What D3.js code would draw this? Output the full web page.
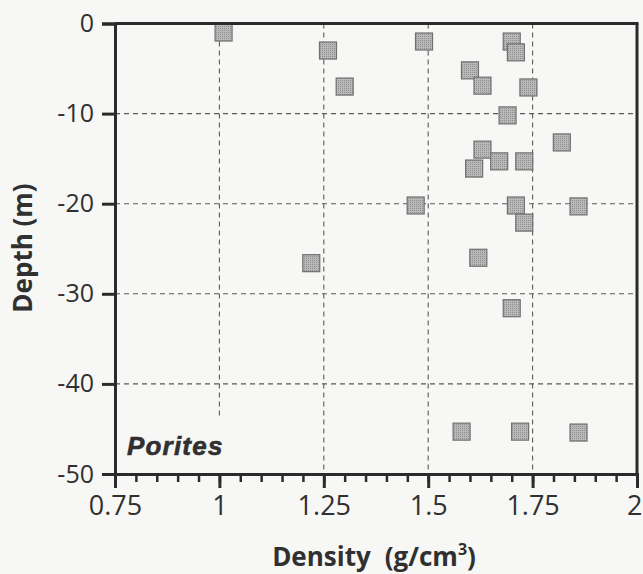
<!DOCTYPE html>
<html>
<head>
<meta charset="utf-8">
<script src="https://cdn.jsdelivr.net/npm/d3@7"></script>
<style>
  html, body { margin: 0; padding: 0; background: #f7f7f5; }
  svg { display: block; }
</style>
</head>
<body>
<svg id="chart" width="643" height="574"></svg>
<script>
// Porites skeletal density against collection depth
const density = [1.01, 1.22, 1.26, 1.49, 1.30, 1.70, 1.71, 1.60, 1.63, 1.74,
                 1.69, 1.82, 1.63, 1.67, 1.73, 1.61, 1.47, 1.71, 1.86, 1.73,
                 1.62, 1.70, 1.58, 1.72, 1.86];
const depth   = [-1, -26.6, -3, -2, -7, -2, -3.2, -5.2, -6.9, -7.1,
                 -10.2, -13.2, -14, -15.3, -15.3, -16.1, -20.2, -20.2, -20.3, -22.1,
                 -26, -31.6, -45.3, -45.3, -45.4];
const xTicks = [0.75, 1, 1.25, 1.5, 1.75, 2];
const xTickLabels = ["0.75", "1", "1.25", "1.5", "1.75", "2"];
const yTicks = [0, -10, -20, -30, -40, -50];
const yTickLabels = ["0", "-10", "-20", "-30", "-40", "-50"];
const xMinor = d3.range(0.75, 2.0001, 0.05);
const speciesLabel = "Porites";

const svg = d3.select("#chart");
const plotLeft = 115, plotRight = 637, plotTop = 23.5, plotBottom = 474;

const x = d3.scaleLinear().domain([0.75, 2]).range([plotLeft, plotRight]);
const y = d3.scaleLinear().domain([-50, 0]).range([plotBottom, plotTop]);

const axisColor = "#2b2b2b";
const textColor = "#303030";
const tickFont = "'Open Sans', 'Lato', sans-serif";

// dashed grid
const grid = svg.append("g").attr("stroke", "#5a5a5a").attr("stroke-width", 1.1)
  .attr("stroke-dasharray", "5,4").attr("fill", "none");
grid.selectAll("line.v").data(xTicks.slice(1, -1)).join("line")
  .attr("x1", d => x(d)).attr("x2", d => x(d))
  .attr("y1", plotTop).attr("y2", plotBottom);
grid.selectAll("line.h").data(yTicks.slice(1, -1)).join("line")
  .attr("x1", plotLeft).attr("x2", plotRight)
  .attr("y1", d => y(d)).attr("y2", d => y(d));

// label panel hides the grid behind the species name
svg.append("rect").attr("x", 121).attr("y", 419).attr("width", 118).attr("height", 53)
  .attr("fill", "#f7f7f5");
svg.append("text").attr("x", 127).attr("y", 455)
  .attr("font-family", "'Liberation Sans', Arial, sans-serif")
  .attr("font-weight", 700).attr("font-style", "italic")
  .attr("font-size", 26).attr("letter-spacing", 1.2)
  .attr("fill", textColor).attr("stroke", textColor).attr("stroke-width", 0.6)
  .text(speciesLabel);

// markers
const pat = svg.append("defs").append("pattern").attr("id", "stipple")
  .attr("width", 2).attr("height", 2).attr("patternUnits", "userSpaceOnUse");
pat.append("rect").attr("width", 2).attr("height", 2).attr("fill", "#b9b9b9");
pat.append("rect").attr("width", 1).attr("height", 1).attr("fill", "#8f8f8f");

const size = 17;
svg.append("g").selectAll("rect").data(density.map((d, i) => [d, depth[i]])).join("rect")
  .attr("x", d => x(d[0]) - size / 2).attr("y", d => y(d[1]) - size / 2)
  .attr("width", size).attr("height", size)
  .attr("fill", "url(#stipple)").attr("stroke", "#707070").attr("stroke-width", 1.2);

// frame
const frame = svg.append("g").attr("stroke", axisColor).attr("stroke-width", 3).attr("fill", "none");
frame.append("line").attr("x1", plotLeft).attr("x2", plotRight + 1.5).attr("y1", plotTop).attr("y2", plotTop);
frame.append("line").attr("x1", plotRight).attr("x2", plotRight).attr("y1", plotTop).attr("y2", plotBottom);

// y axis
const yAxis = svg.append("g").attr("transform", `translate(${plotLeft},0)`)
  .call(d3.axisLeft(y).tickValues(yTicks).tickSize(13).tickPadding(8)
    .tickFormat((d, i) => yTickLabels[i]));
yAxis.select(".domain").attr("stroke", axisColor).attr("stroke-width", 3);
yAxis.selectAll(".tick line").attr("stroke", axisColor).attr("stroke-width", 3);
yAxis.selectAll(".tick text").attr("font-family", tickFont).attr("font-size", 25)
  .attr("fill", textColor);

// x axis minor ticks
const xMinorAxis = svg.append("g").attr("transform", `translate(0,${plotBottom})`)
  .call(d3.axisBottom(x).tickValues(xMinor).tickSize(8).tickFormat(""));
xMinorAxis.select(".domain").remove();
xMinorAxis.selectAll(".tick line").attr("stroke", axisColor).attr("stroke-width", 2.5);

// x axis
const xAxis = svg.append("g").attr("transform", `translate(0,${plotBottom})`)
  .call(d3.axisBottom(x).tickValues(xTicks).tickSize(14).tickPadding(8)
    .tickFormat((d, i) => xTickLabels[i]));
xAxis.select(".domain").attr("stroke", axisColor).attr("stroke-width", 3);
xAxis.selectAll(".tick line").attr("stroke", axisColor).attr("stroke-width", 3);
xAxis.selectAll(".tick text").attr("font-family", tickFont).attr("font-size", 27)
  .attr("fill", textColor);
// keep the last label inside the page edge
xAxis.selectAll(".tick text").filter((d, i, n) => i === n.length - 1)
  .attr("text-anchor", "end").attr("x", 643 - plotRight - 1);

// axis titles
svg.append("text").attr("x", 374).attr("y", 566).attr("text-anchor", "middle")
  .attr("font-family", "'Open Sans', sans-serif").attr("font-weight", 700)
  .attr("font-size", 26).attr("fill", textColor)
  .call(t => {
    t.append("tspan").text("Density");
    t.append("tspan").attr("dx", 14).text("(g/cm");
    t.append("tspan").attr("font-size", 16).attr("dy", -11).text("3");
    t.append("tspan").attr("dy", 11).text(")");
  });
svg.append("text").attr("transform", "translate(32,248) rotate(-90)")
  .attr("text-anchor", "middle")
  .attr("font-family", "'Open Sans', sans-serif").attr("font-weight", 700)
  .attr("font-size", 26).attr("fill", textColor)
  .text("Depth (m)");
</script>
</body>
</html>
